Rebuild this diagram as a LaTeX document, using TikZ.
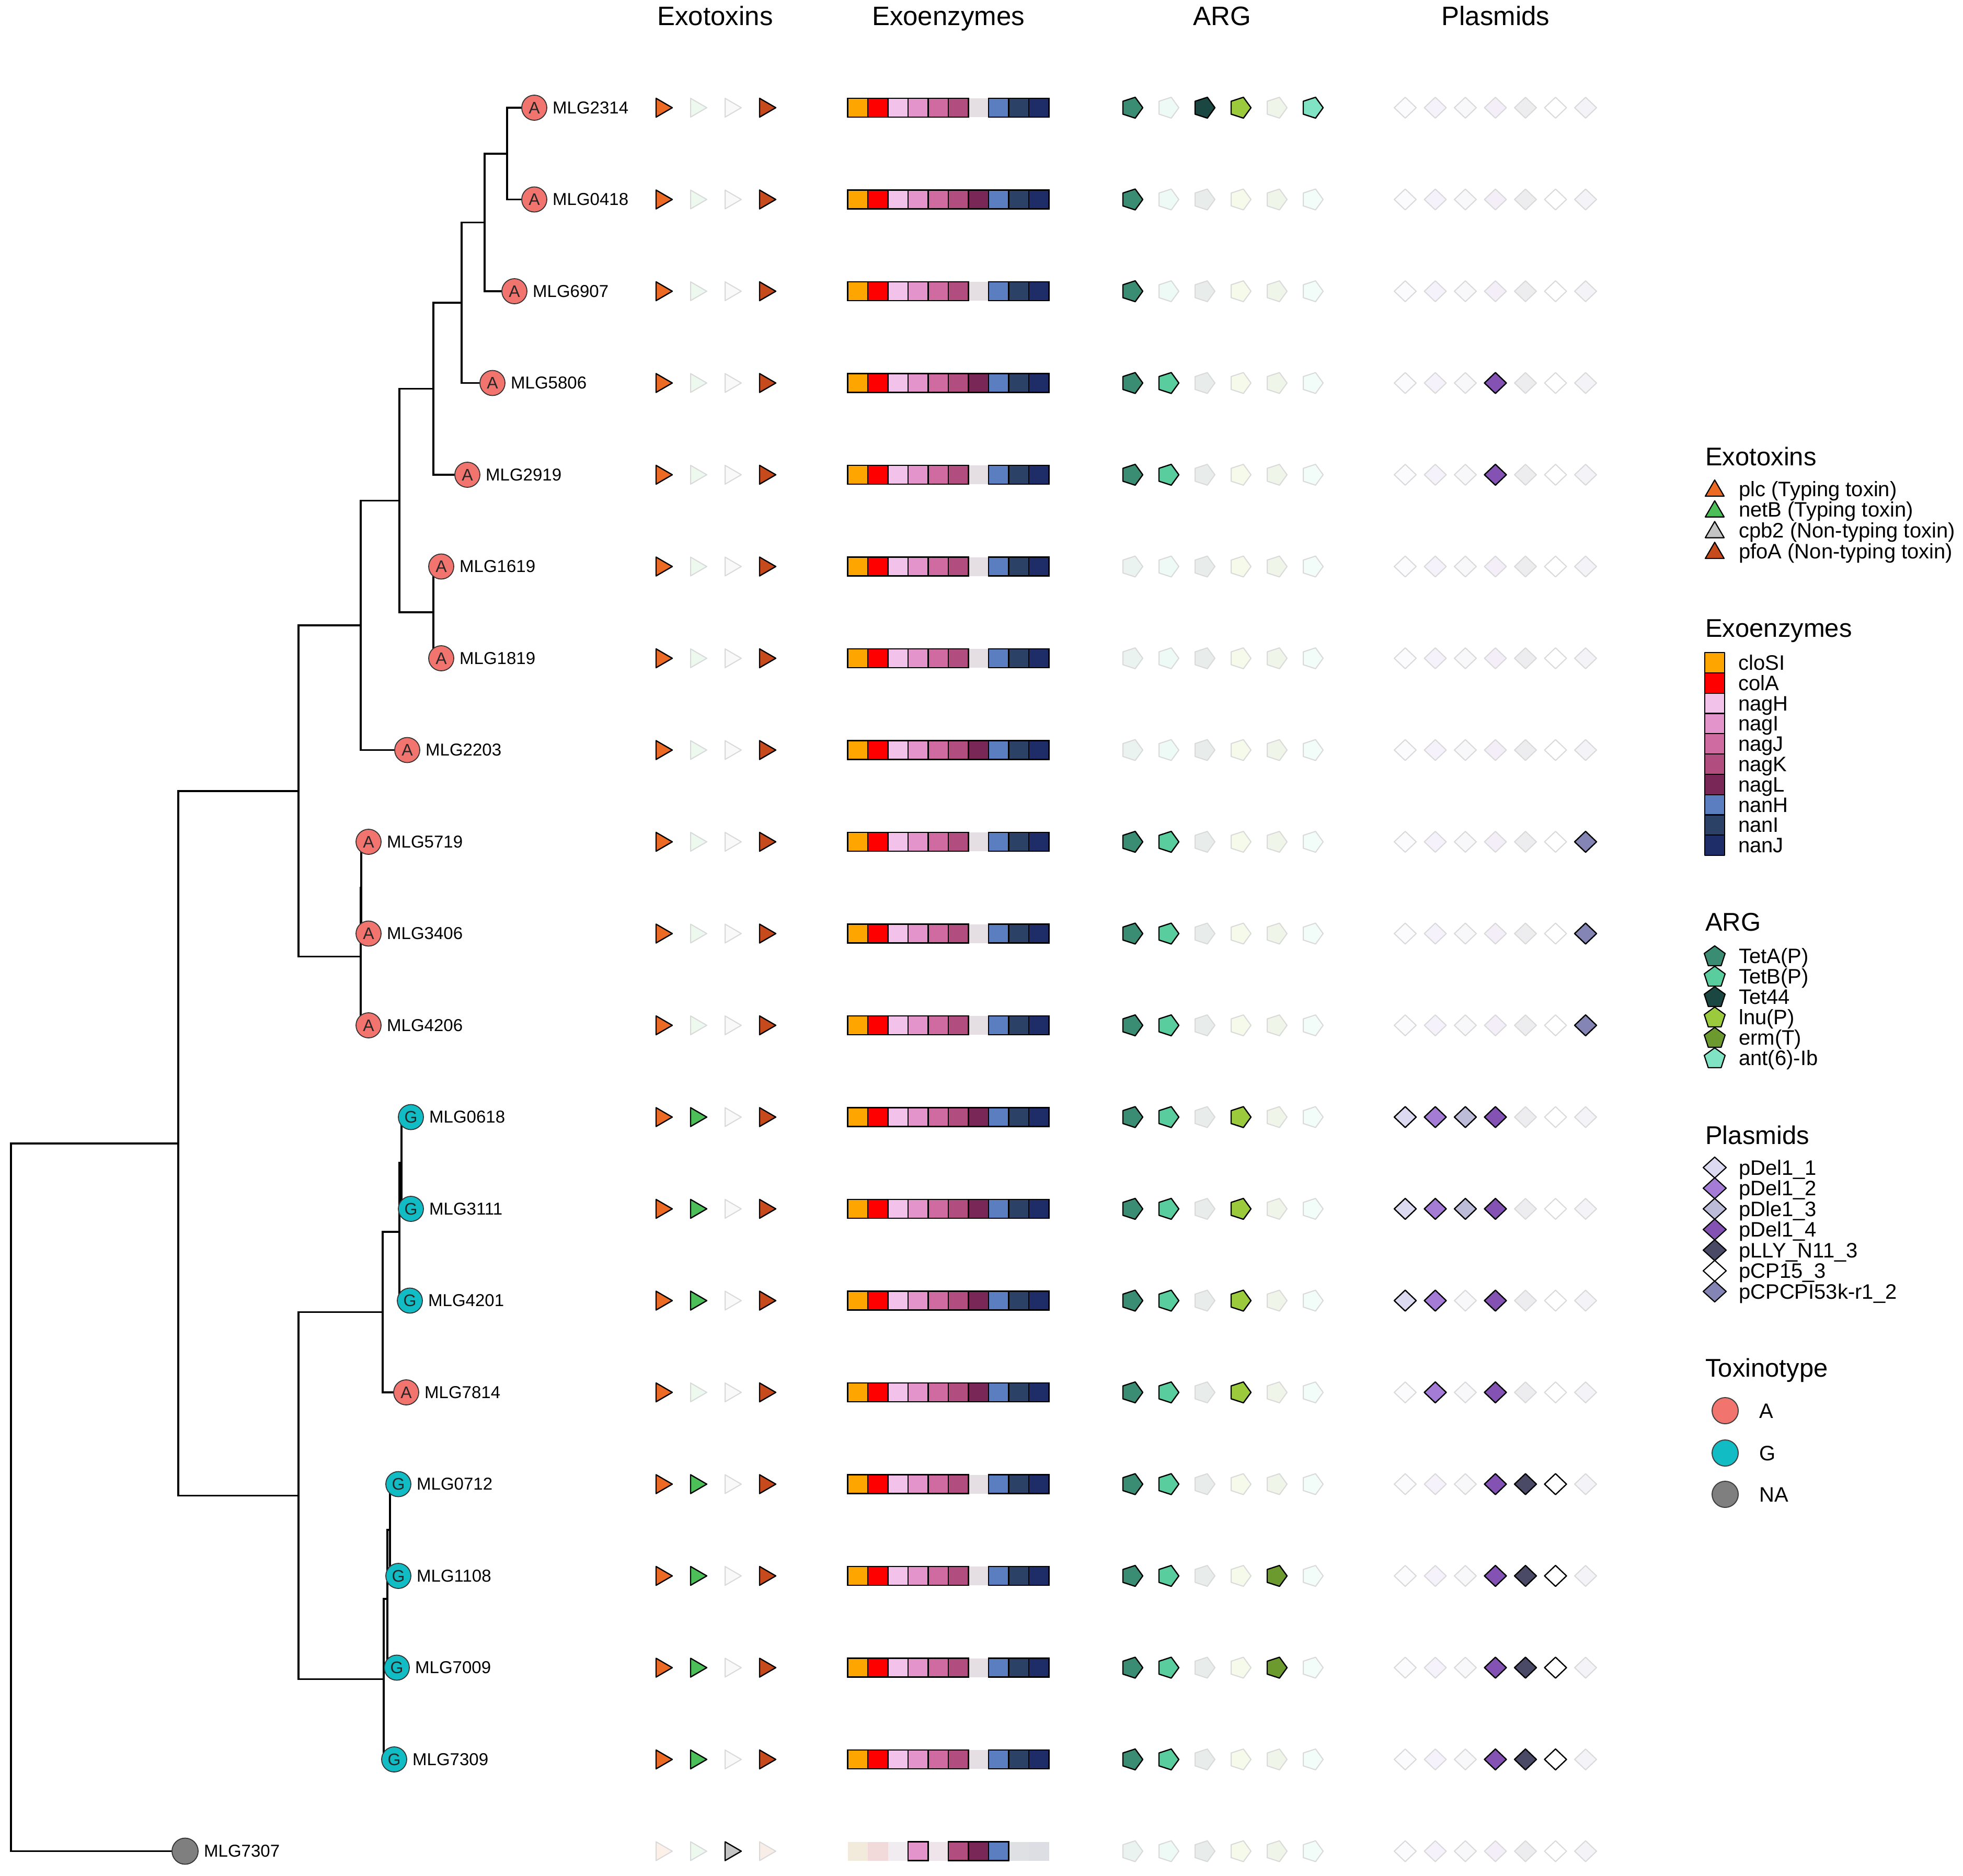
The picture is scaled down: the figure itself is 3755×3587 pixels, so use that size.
\documentclass[tikz,border=0pt]{standalone}
\usepackage{fontspec}
\setmainfont{Liberation Sans}
% exotoxins
\definecolor{ex0}{HTML}{EC6A24}
\definecolor{ex1}{HTML}{4CBF58}
\definecolor{ex2}{HTML}{C4C4C4}
\definecolor{ex3}{HTML}{C64A1C}
% exoenzymes
\definecolor{en0}{HTML}{FFA500}
\definecolor{en1}{HTML}{FF0000}
\definecolor{en2}{HTML}{F2C2EA}
\definecolor{en3}{HTML}{E394CA}
\definecolor{en4}{HTML}{CF6BA0}
\definecolor{en5}{HTML}{B24E7F}
\definecolor{en6}{HTML}{782757}
\definecolor{en7}{HTML}{5B7EC0}
\definecolor{en8}{HTML}{2B4166}
\definecolor{en9}{HTML}{1E2D68}
% ARG
\definecolor{ar0}{HTML}{3A8C72}
\definecolor{ar1}{HTML}{5ACD9E}
\definecolor{ar2}{HTML}{1B4743}
\definecolor{ar3}{HTML}{9BCB3C}
\definecolor{ar4}{HTML}{6C9A2E}
\definecolor{ar5}{HTML}{80E3C4}
% plasmids
\definecolor{pl0}{HTML}{DCDAF0}
\definecolor{pl1}{HTML}{A47CD6}
\definecolor{pl2}{HTML}{BCBCD8}
\definecolor{pl3}{HTML}{8352B3}
\definecolor{pl4}{HTML}{4A4A66}
\definecolor{pl5}{HTML}{FFFFFF}
\definecolor{pl6}{HTML}{8585B5}
% toxinotype
\definecolor{tyA}{HTML}{F2746E}
\definecolor{tyG}{HTML}{12BCC4}
\definecolor{tyNA}{HTML}{7F7F7F}

\pgfdeclarelayer{bg}
\pgfsetlayers{bg,main}

\newcommand\datarow[5]{%
  \pgfmathsetmacro\Y{206+175.5*(#1-1)}%
  % exotoxins
  \foreach \b [count=\k from 0] in {#2}{%
    \pgfmathsetmacro\X{1255+66*\k}%
    \ifnum\b=1
      \path[pres=ex\k] (\X,\Y-18) -- (\X+31,\Y) -- (\X,\Y+18) -- cycle;
    \else
      \path[absn=ex\k] (\X,\Y-18) -- (\X+31,\Y) -- (\X,\Y+18) -- cycle;
    \fi
  }%
  % exoenzymes: absent first, then present
  \foreach \b [count=\k from 0] in {#3}{%
    \pgfmathsetmacro\X{1621.5+38.5*\k}%
    \ifnum\b=0
      \path[tileoff=en\k] (\X,\Y-18) rectangle (\X+38.5,\Y+18);
    \fi
  }%
  \foreach \b [count=\k from 0] in {#3}{%
    \pgfmathsetmacro\X{1621.5+38.5*\k}%
    \ifnum\b=1
      \path[tileon=en\k] (\X,\Y-18) rectangle (\X+38.5,\Y+18);
    \fi
  }%
  % ARG pentagons pointing right
  \foreach \b [count=\k from 0] in {#4}{%
    \pgfmathsetmacro\X{2165+69*\k}%
    \ifnum\b=1
      \path[pres=ar\k] (\X+21,\Y) -- (\X+6.49,\Y-19.97) -- (\X-16.99,\Y-12.34) -- (\X-16.99,\Y+12.34) -- (\X+6.49,\Y+19.97) -- cycle;
    \else
      \path[absn=ar\k] (\X+21,\Y) -- (\X+6.49,\Y-19.97) -- (\X-16.99,\Y-12.34) -- (\X-16.99,\Y+12.34) -- (\X+6.49,\Y+19.97) -- cycle;
    \fi
  }%
  % plasmid diamonds
  \foreach \b [count=\k from 0] in {#5}{%
    \pgfmathsetmacro\X{2688+57.5*\k}%
    \ifnum\b=1
      \path[pres=pl\k] (\X-21,\Y) -- (\X,\Y-20) -- (\X+21,\Y) -- (\X,\Y+20) -- cycle;
    \else
      \path[absn=pl\k] (\X-21,\Y) -- (\X,\Y-20) -- (\X+21,\Y) -- (\X,\Y+20) -- cycle;
    \fi
  }%
}

\begin{document}
\begin{tikzpicture}[x=1pt,y=-1pt,
  pres/.style={fill=#1,draw=black,line width=2.4pt,line join=round},
  absn/.style={fill=#1!10!white,draw=black!15,line width=2pt,line join=round},
  tileon/.style={fill=#1,draw=black,line width=2.8pt},
  tileoff/.style={fill=#1!10!white!95!black,draw=none},
  tree/.style={draw=black,line width=3.8pt},
  tipnode/.style={circle,draw=black!80,line width=1.8pt,minimum size=48pt,inner sep=0pt,font=\fontsize{32}{36}\selectfont,text=black!85},
  tiplab/.style={anchor=west,inner sep=0pt,font=\fontsize{33}{40}\selectfont},
  head/.style={anchor=base,inner sep=0pt,font=\fontsize{51}{60}\selectfont},
  legtitle/.style={anchor=base west,inner sep=0pt,font=\fontsize{49}{58}\selectfont},
  leglab/.style={anchor=base west,inner sep=0pt,font=\fontsize{40}{48}\selectfont},
  legshape/.style={fill=#1,draw=black,line width=2.2pt,line join=round},
]
\useasboundingbox (0,0) rectangle (3755,3587);

% headers
\node[head] (hEx) at (1368,48) {Exotoxins};
\node[head] (hEn) at (1814,48) {Exoenzymes};
\node[head] (hAr) at (2338,48) {ARG};
\node[head] (hPl) at (2861,48) {Plasmids};

% tips
\foreach \i/\x/\t/\lab in {
  1/1022/A/MLG2314, 2/1022/A/MLG0418, 3/984/A/MLG6907, 4/942/A/MLG5806,
  5/894/A/MLG2919, 6/844/A/MLG1619, 7/844/A/MLG1819, 8/779/A/MLG2203,
  9/705/A/MLG5719, 10/705/A/MLG3406, 11/705/A/MLG4206, 12/786/G/MLG0618,
  13/786/G/MLG3111, 14/784/G/MLG4201, 15/777/A/MLG7814, 16/762/G/MLG0712,
  17/762/G/MLG1108, 18/759/G/MLG7009, 19/754/G/MLG7309}{
  \pgfmathsetmacro\Y{206+175.5*(\i-1)}
  \node[tipnode,fill=ty\t] (t\i) at (\x,\Y) {\t};
  \node[tiplab] (l\i) at (\x+35,\Y) {\lab};
}
\node[tipnode,fill=tyNA,minimum size=50pt] (t20) at (354,3540.5) {};
\node[tiplab] (l20) at (390,3540.5) {MLG7307};

% internal nodes
\coordinate (a1) at (970,293.75);
\coordinate (a2) at (927,425.4);
\coordinate (a3) at (883,579);
\coordinate (a4) at (829,743.5);
\coordinate (b1) at (829,1171.25);
\coordinate (a5) at (764,957.4);
\coordinate (a6) at (690,1196);
\coordinate (c1) at (691,1697.75);
\coordinate (c2) at (690,1829.4);
\coordinate (a7) at (571,1512.7);
\coordinate (g1) at (768,2224.25);
\coordinate (g2) at (764,2355.9);
\coordinate (g3) at (732,2509.4);
\coordinate (h1) at (746,2926.25);
\coordinate (h2) at (741,3057.9);
\coordinate (h3) at (734,3211.4);
\coordinate (g4) at (571,2860.4);
\coordinate (m) at (341,2186.6);
\coordinate (root) at (21,2863.5);

\begin{pgfonlayer}{bg}
\foreach \p/\c in {a1/t1.center, a1/t2.center, a2/a1, a2/t3.center,
  a3/a2, a3/t4.center, a4/a3, a4/t5.center, b1/t6.center, b1/t7.center,
  a5/a4, a5/b1, a6/a5, a6/t8.center, c1/t9.center, c1/t10.center,
  c2/c1, c2/t11.center, a7/a6, a7/c2, g1/t12.center, g1/t13.center,
  g2/g1, g2/t14.center, g3/g2, g3/t15.center, h1/t16.center, h1/t17.center,
  h2/h1, h2/t18.center, h3/h2, h3/t19.center, g4/g3, g4/h3,
  m/a7, m/g4, root/m, root/t20.center}{
  \draw[tree] (\p) |- (\c);
}
\end{pgfonlayer}

% data rows
\datarow{1}{1,0,0,1}{1,1,1,1,1,1,0,1,1,1}{1,0,1,1,0,1}{0,0,0,0,0,0,0}
\datarow{2}{1,0,0,1}{1,1,1,1,1,1,1,1,1,1}{1,0,0,0,0,0}{0,0,0,0,0,0,0}
\datarow{3}{1,0,0,1}{1,1,1,1,1,1,0,1,1,1}{1,0,0,0,0,0}{0,0,0,0,0,0,0}
\datarow{4}{1,0,0,1}{1,1,1,1,1,1,1,1,1,1}{1,1,0,0,0,0}{0,0,0,1,0,0,0}
\datarow{5}{1,0,0,1}{1,1,1,1,1,1,0,1,1,1}{1,1,0,0,0,0}{0,0,0,1,0,0,0}
\datarow{6}{1,0,0,1}{1,1,1,1,1,1,0,1,1,1}{0,0,0,0,0,0}{0,0,0,0,0,0,0}
\datarow{7}{1,0,0,1}{1,1,1,1,1,1,0,1,1,1}{0,0,0,0,0,0}{0,0,0,0,0,0,0}
\datarow{8}{1,0,0,1}{1,1,1,1,1,1,1,1,1,1}{0,0,0,0,0,0}{0,0,0,0,0,0,0}
\datarow{9}{1,0,0,1}{1,1,1,1,1,1,0,1,1,1}{1,1,0,0,0,0}{0,0,0,0,0,0,1}
\datarow{10}{1,0,0,1}{1,1,1,1,1,1,0,1,1,1}{1,1,0,0,0,0}{0,0,0,0,0,0,1}
\datarow{11}{1,0,0,1}{1,1,1,1,1,1,0,1,1,1}{1,1,0,0,0,0}{0,0,0,0,0,0,1}
\datarow{12}{1,1,0,1}{1,1,1,1,1,1,1,1,1,1}{1,1,0,1,0,0}{1,1,1,1,0,0,0}
\datarow{13}{1,1,0,1}{1,1,1,1,1,1,1,1,1,1}{1,1,0,1,0,0}{1,1,1,1,0,0,0}
\datarow{14}{1,1,0,1}{1,1,1,1,1,1,1,1,1,1}{1,1,0,1,0,0}{1,1,0,1,0,0,0}
\datarow{15}{1,0,0,1}{1,1,1,1,1,1,1,1,1,1}{1,1,0,1,0,0}{0,1,0,1,0,0,0}
\datarow{16}{1,1,0,1}{1,1,1,1,1,1,0,1,1,1}{1,1,0,0,0,0}{0,0,0,1,1,1,0}
\datarow{17}{1,1,0,1}{1,1,1,1,1,1,0,1,1,1}{1,1,0,0,1,0}{0,0,0,1,1,1,0}
\datarow{18}{1,1,0,1}{1,1,1,1,1,1,0,1,1,1}{1,1,0,0,1,0}{0,0,0,1,1,1,0}
\datarow{19}{1,1,0,1}{1,1,1,1,1,1,0,1,1,1}{1,1,0,0,0,0}{0,0,0,1,1,1,0}
\datarow{20}{0,0,1,0}{0,0,0,1,0,1,1,1,0,0}{0,0,0,0,0,0}{0,0,0,0,0,0,0}

% ---------- legend ----------
\node[legtitle] (LgEx) at (3262,890) {Exotoxins};
\foreach \c/\t [count=\i from 0] in {ex0/plc (Typing toxin), ex1/netB (Typing toxin),
  ex2/cpb2 (Non-typing toxin), ex3/pfoA (Non-typing toxin)}{
  \pgfmathsetmacro\Y{935+39.7*\i}
  \path[legshape=\c] (3280,\Y-17) -- (3298,\Y+14) -- (3262,\Y+14) -- cycle;
  \node[leglab] (lex\i) at (3326,\Y+14) {\t};
}

\node[legtitle] (LgEn) at (3262,1218) {Exoenzymes};
\foreach \c/\t [count=\i from 0] in {en0/cloSI, en1/colA, en2/nagH, en3/nagI, en4/nagJ,
  en5/nagK, en6/nagL, en7/nanH, en8/nanI, en9/nanJ}{
  \pgfmathsetmacro\Y{1248+38.8*\i}
  \path[legshape=\c] (3261,\Y) rectangle (3299,\Y+38.8);
  \node[leglab] (len\i) at (3325,\Y+19.4+14) {\t};
}

\node[legtitle] (LgAr) at (3262,1780) {ARG};
\foreach \c/\t [count=\i from 0] in {ar0/TetA(P), ar1/TetB(P), ar2/Tet44, ar3/lnu(P),
  ar4/erm(T), ar5/ant(6)-Ib}{
  \pgfmathsetmacro\Y{1828+39*\i}
  \pgfmathsetmacro\C{\Y+2}
  \path[legshape=\c] (3280,\C-21) -- (3299.97,\C-6.49) -- (3292.34,\C+16.99) -- (3267.66,\C+16.99) -- (3260.03,\C-6.49) -- cycle;
  \node[leglab] (lar\i) at (3326,\Y+14) {\t};
}

\node[legtitle] (LgPl) at (3262,2188) {Plasmids};
\foreach \c/\t [count=\i from 0] in {pl0/pDel1\_1, pl1/pDel1\_2, pl2/pDle1\_3, pl3/pDel1\_4,
  pl4/pLLY\_N11\_3, pl5/pCP15\_3, pl6/pCPCPI53k-r1\_2}{
  \pgfmathsetmacro\Y{2233+39.5*\i}
  \path[legshape=\c] (3258,\Y) -- (3280,\Y-20) -- (3302,\Y) -- (3280,\Y+20) -- cycle;
  \node[leglab] (lpl\i) at (3326,\Y+14) {\t};
}

\node[legtitle] (LgTy) at (3262,2633) {Toxinotype};
\foreach \c/\t/\y in {tyA/A/2698, tyG/G/2779, tyNA/NA/2858}{
  \node[circle,fill=\c,draw=black!75,line width=2pt,minimum size=50pt,inner sep=0pt] (ly\t) at (3300,\y) {};
  \node[leglab] (lty\t) at (3365,\y+14) {\t};
}
\end{tikzpicture}
\end{document}
